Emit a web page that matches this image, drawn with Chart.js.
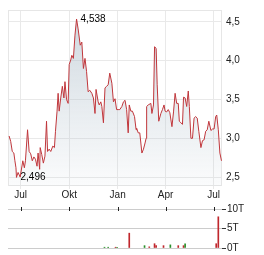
<!DOCTYPE html>
<html>
<head>
<meta charset="utf-8">
<script src="https://cdn.jsdelivr.net/npm/chart.js@4.4.0/dist/chart.umd.min.js"></script>
<style>
  body { margin:0; background:#fff; }
  #kurs { position:absolute; left:0; top:0; }
  #umsatz { position:absolute; left:0; top:202px; }
</style>
</head>
<body>
<canvas id="kurs" width="264" height="202"></canvas>
<canvas id="umsatz" width="264" height="53"></canvas>
<script>
// Kursverlauf (Schlusskurse)
var kursDatum = ['2023-06-09','2023-06-12','2023-06-15','2023-06-18','2023-06-20','2023-06-22','2023-06-23','2023-06-26','2023-06-30','2023-07-05',
  '2023-07-08','2023-07-10','2023-07-14','2023-07-17','2023-07-20','2023-07-23','2023-07-26','2023-07-29','2023-08-01','2023-08-03',
  '2023-08-06','2023-08-07','2023-08-10','2023-08-13','2023-08-16','2023-08-19','2023-08-21','2023-08-24','2023-08-27','2023-08-31',
  '2023-09-03','2023-09-05','2023-09-08','2023-09-10','2023-09-12','2023-09-15','2023-09-18','2023-09-21','2023-09-23','2023-09-26',
  '2023-09-29','2023-10-01','2023-10-04','2023-10-06','2023-10-09','2023-10-12','2023-10-15','2023-10-18','2023-10-22','2023-10-25',
  '2023-10-28','2023-10-31','2023-11-03','2023-11-06','2023-11-09','2023-11-13','2023-11-16','2023-11-19','2023-11-21','2023-11-25',
  '2023-11-27','2023-11-30','2023-12-02','2023-12-05','2023-12-08','2023-12-11','2023-12-14','2023-12-17','2023-12-21','2023-12-24',
  '2023-12-27','2023-12-30','2024-01-02','2024-01-05','2024-01-09','2024-01-12','2024-01-15','2024-01-18','2024-01-21','2024-01-23',
  '2024-01-26','2024-01-29','2024-02-02','2024-02-05','2024-02-06','2024-02-09','2024-02-12','2024-02-16','2024-02-19','2024-02-22',
  '2024-02-24','2024-02-25','2024-02-28','2024-03-04','2024-03-06','2024-03-09','2024-03-11','2024-03-14','2024-03-16','2024-03-19',
  '2024-03-23','2024-03-26','2024-03-29','2024-03-31','2024-04-03','2024-04-06','2024-04-09','2024-04-13','2024-04-16','2024-04-19',
  '2024-04-22','2024-04-25','2024-04-27','2024-04-30','2024-05-03','2024-05-05','2024-05-08','2024-05-11','2024-05-14','2024-05-16',
  '2024-05-19','2024-05-22','2024-05-25','2024-05-28','2024-05-31','2024-06-03','2024-06-07','2024-06-10','2024-06-13','2024-06-16',
  '2024-06-19','2024-06-22','2024-06-26','2024-06-29','2024-07-02','2024-07-05','2024-07-07','2024-07-10','2024-07-13','2024-07-16'];
var kursWerte = [3.03,2.96,2.83,2.81,2.71,2.62,2.496,2.56,2.50,2.71,
  2.62,2.71,3.11,2.83,2.80,2.71,2.76,2.73,2.64,2.81,
  2.60,2.88,2.79,2.68,2.77,3.22,2.83,2.86,2.83,2.90,
  2.88,3.09,3.35,3.58,3.35,3.52,3.67,3.52,3.73,3.50,
  3.45,3.95,4.01,4.07,4.03,4.33,4.538,4.41,4.20,4.24,
  3.90,4.03,3.86,3.60,3.62,3.58,3.52,3.32,3.63,3.47,
  3.43,3.47,3.41,3.20,3.65,3.67,3.69,3.84,3.71,3.47,
  3.51,3.37,3.37,3.37,3.41,3.47,3.49,3.37,3.07,3.43,
  3.35,3.35,3.28,3.11,3.13,3.07,3.07,2.81,2.86,2.94,
  3.00,3.41,3.43,3.45,3.32,3.43,4.18,4.16,3.69,3.22,
  3.32,3.37,3.43,3.35,3.34,3.37,3.33,3.15,3.34,3.58,
  3.45,3.45,3.22,3.20,3.18,3.53,3.52,3.41,3.61,3.41,
  3.00,3.00,3.26,3.28,3.26,3.09,2.88,2.97,2.98,3.09,
  3.11,3.22,3.10,3.12,3.12,3.28,3.30,3.11,2.81,2.71];

// Umsatz in Tausend Stueck, Richtung +1 = gruen, -1 = rot
var umsatzDatum = ['2023-12-07','2023-12-14','2023-12-28','2023-12-31','2024-01-23','2024-02-21','2024-03-01','2024-03-11',
  '2024-03-14','2024-03-28','2024-04-10','2024-04-25','2024-05-05','2024-05-08','2024-07-06','2024-07-10'];
var umsatzWerte = [0.2,0.2,0.2,0.2,3.8,0.6,0.3,1.1,0.6,0.6,0.8,0.6,0.6,1.1,1.1,8.0];
var umsatzRichtung = [1,1,-1,1,-1,1,-1,-1,-1,-1,1,-1,-1,1,-1,-1];

var achsenDatum = ['2023-07-01','2023-10-01','2024-01-01','2024-04-01','2024-07-01'];
var achsenMonate = ['Jul','Okt','Jan','Apr','Jul'];
var kursTicks = [2.5,3.0,3.5,4.0,4.5];
var umsatzTicks = [0,5,10];

function tagNr(s){
  var p = s.split('-');
  return (Date.UTC(+p[0], p[1]-1, +p[2]) - Date.UTC(2023,6,1)) / 864e5;
}
var xMin = -24.1, xMax = 382;
var achsenTage = achsenDatum.map(tagNr);
var schrift = { family: "'Liberation Sans', Arial, sans-serif", size: 10 };
var textFarbe = '#222';

var rahmen = {
  id: 'rahmen',
  beforeDatasetsDraw: function(chart){
    var a = chart.chartArea, c = chart.ctx;
    c.save();
    c.strokeStyle = '#e6e6e6';
    c.lineWidth = 1;
    c.strokeRect(Math.round(a.left)+0.5, Math.round(a.top)+0.5, Math.round(a.right-a.left)-1, Math.round(a.bottom-a.top)-1);
    c.restore();
  }
};

var extremwerte = {
  id: 'extremwerte',
  afterDatasetsDraw: function(chart){
    var c = chart.ctx, sx = chart.scales.x, sy = chart.scales.y;
    var iMax = kursWerte.indexOf(Math.max.apply(null, kursWerte));
    var iMin = kursWerte.indexOf(Math.min.apply(null, kursWerte));
    c.save();
    c.font = '10px ' + schrift.family;
    c.fillStyle = '#000';
    c.textBaseline = 'middle';
    [iMax, iMin].forEach(function(i){
      var px = sx.getPixelForValue(tagNr(kursDatum[i]));
      var py = sy.getPixelForValue(kursWerte[i]);
      c.fillText(kursWerte[i].toFixed(3).replace('.', ','), px + 4, py);
    });
    c.restore();
  }
};

new Chart(document.getElementById('kurs'), {
  type: 'line',
  data: {
    datasets: [{
      data: kursDatum.map(function(d, i){ return { x: tagNr(d), y: kursWerte[i] }; }),
      borderColor: '#c0363b',
      borderWidth: 1,
      pointRadius: 0,
      tension: 0,
      fill: 'start',
      backgroundColor: function(ctx){
        var a = ctx.chart.chartArea;
        if (!a) return 'rgba(0,0,0,0)';
        var g = ctx.chart.ctx.createLinearGradient(0, a.top, 0, a.bottom);
        g.addColorStop(0, 'rgba(175,190,202,0.62)');
        g.addColorStop(1, 'rgba(180,195,206,0.06)');
        return g;
      }
    }]
  },
  options: {
    responsive: false,
    animation: false,
    layout: { padding: { left: 8, top: 8 } },
    plugins: { legend: { display: false }, tooltip: { enabled: false } },
    scales: {
      x: {
        type: 'linear', min: xMin, max: xMax,
        afterBuildTicks: function(s){ s.ticks = achsenTage.map(function(v){ return { value: v }; }); },
        ticks: { callback: function(v, i){ return achsenMonate[i]; }, font: schrift, color: textFarbe, padding: 0, maxRotation: 0, autoSkip: false },
        grid: { color: '#e9e9e9', tickLength: 3 },
        border: { display: false },
        afterFit: function(s){ s.height = 16; }
      },
      y: {
        position: 'right', min: 2.385, max: 4.654,
        afterBuildTicks: function(s){ s.ticks = kursTicks.map(function(v){ return { value: v }; }); },
        ticks: { callback: function(v){ return v.toFixed(1).replace('.', ','); }, font: schrift, color: textFarbe, padding: 4 },
        grid: { color: '#e9e9e9', drawTicks: false },
        border: { display: false },
        afterFit: function(s){ s.width = 42; }
      }
    }
  },
  plugins: [rahmen, extremwerte]
});

var monatsStriche = {
  id: 'monatsStriche',
  afterDraw: function(chart){
    var c = chart.ctx, sx = chart.scales.x, top = Math.round(chart.chartArea.top);
    c.save();
    c.strokeStyle = '#222';
    c.lineWidth = 1;
    achsenTage.forEach(function(t){
      var px = Math.round(sx.getPixelForValue(t)) + 0.5;
      c.beginPath();
      c.moveTo(px, top - 2);
      c.lineTo(px, top + 2);
      c.stroke();
    });
    c.restore();
  }
};

new Chart(document.getElementById('umsatz'), {
  type: 'bar',
  data: {
    datasets: [{
      data: umsatzDatum.map(function(d, i){ return { x: tagNr(d), y: umsatzWerte[i] }; }),
      backgroundColor: umsatzRichtung.map(function(r){ return r > 0 ? '#2a8f2a' : '#c0272d'; }),
      barThickness: 1
    }]
  },
  options: {
    responsive: false,
    animation: false,
    layout: { padding: { left: 8, top: 5, bottom: 7 } },
    plugins: { legend: { display: false }, tooltip: { enabled: false } },
    scales: {
      x: { type: 'linear', min: xMin, max: xMax, offset: false, display: false },
      y: {
        position: 'right', min: 0, max: 10,
        afterBuildTicks: function(s){ s.ticks = umsatzTicks.map(function(v){ return { value: v }; }); },
        ticks: { callback: function(v){ return v + 'T'; }, font: schrift, color: textFarbe, padding: 1 },
        grid: { color: '#cccccc', tickColor: '#333', tickLength: 4 },
        border: { display: false },
        afterFit: function(s){ s.width = 42; }
      }
    }
  },
  plugins: [monatsStriche]
});
</script>
</body>
</html>
